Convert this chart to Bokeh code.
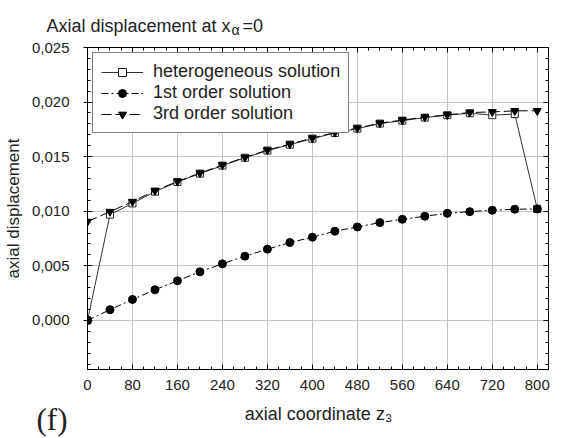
from bokeh.plotting import figure
from bokeh.layouts import column, row
from bokeh.models import (FixedTicker, CustomJSTickFormatter, LinearAxis, Range1d,
                          Legend, LegendItem, Label, ColumnDataSource)
from bokeh.embed import file_html
from bokeh.resources import INLINE

# ---- data ----
z3 = [0, 40, 80, 120, 160, 200, 240, 280, 320, 360, 400,
      440, 480, 520, 560, 600, 640, 680, 720, 760, 800]
heterogeneous = [0.00000, 0.00969, 0.01072, 0.01180, 0.01268, 0.01345, 0.01418,
                 0.01490, 0.01556, 0.01610, 0.01665, 0.01717, 0.01757, 0.01803,
                 0.01830, 0.01858, 0.01880, 0.01898, 0.01880, 0.01890, 0.01021]
first_order = [0.00000, 0.00098, 0.00192, 0.00280, 0.00363, 0.00445, 0.00518,
               0.00588, 0.00652, 0.00713, 0.00762, 0.00817, 0.00856, 0.00896,
               0.00926, 0.00954, 0.00981, 0.00996, 0.01009, 0.01018, 0.01021]
third_order = [0.00905, 0.00996, 0.01088, 0.01188, 0.01273, 0.01350, 0.01423,
               0.01493, 0.01560, 0.01615, 0.01670, 0.01721, 0.01761, 0.01807,
               0.01835, 0.01862, 0.01883, 0.01904, 0.01910, 0.01920, 0.01920]
x_major = [0, 80, 160, 240, 320, 400, 480, 560, 640, 720, 800]
x_minor = [20, 40, 60, 100, 120, 140, 180, 200, 220, 260, 280, 300, 340, 360, 380,
           420, 440, 460, 500, 520, 540, 580, 600, 620, 660, 680, 700, 740, 760,
           780, 820]
y_major = [0.000, 0.005, 0.010, 0.015, 0.020, 0.025]
y_minor = [-0.004, -0.003, -0.002, -0.001, 0.001, 0.002, 0.003, 0.004, 0.006,
           0.007, 0.008, 0.009, 0.011, 0.012, 0.013, 0.014, 0.016, 0.017, 0.018,
           0.019, 0.021, 0.022, 0.023, 0.024]
series_names = ["heterogeneous solution", "1st order solution", "3rd order solution"]
title_parts = ["Axial displacement at x", "α", "=0"]
x_label = "axial coordinate z₃"
y_label = "axial displacement"
panel_tag = "(f)"

FONT = "Liberation Sans"
TXT = "#222222"
W = 564


def strip(height):
    f = figure(width=W, height=height, output_backend="svg", toolbar_location=None,
               x_axis_type=None, y_axis_type=None, x_range=Range1d(0, 1),
               y_range=Range1d(0, 1), min_border=0, align="start")
    f.outline_line_color = None
    f.grid.visible = False
    return f


# ---- title strip ----
top = strip(38)
top.add_layout(Label(x=46, y=13, x_units="screen", y_units="screen", text=title_parts[0],
                     text_font=FONT, text_font_size="18px", text_color=TXT,
                     text_baseline="alphabetic"))
top.add_layout(Label(x=231, y=9, x_units="screen", y_units="screen", text=title_parts[1],
                     text_font=FONT, text_font_size="14px", text_color=TXT,
                     text_baseline="alphabetic"))
top.add_layout(Label(x=242, y=13, x_units="screen", y_units="screen", text=title_parts[2],
                     text_font=FONT, text_font_size="18px", text_color=TXT,
                     text_baseline="alphabetic"))

# ---- main chart ----
src = ColumnDataSource(dict(z=z3, het=heterogeneous, first=first_order, third=third_order))

p = figure(width=W, height=360, output_backend="svg", toolbar_location=None,
           x_range=Range1d(0, 820), y_range=Range1d(-0.0045, 0.025),
           min_border_left=87, min_border_right=16, min_border_top=9,
           min_border_bottom=29, y_axis_label=y_label)
p.outline_line_color = "black"
p.background_fill_color = "white"
p.border_fill_color = "white"

xt = FixedTicker(ticks=x_major, minor_ticks=x_minor)
yt = FixedTicker(ticks=y_major, minor_ticks=y_minor)

p.xaxis.ticker = xt
p.yaxis.ticker = yt
p.xgrid.ticker = xt
p.ygrid.ticker = yt
for g in (p.xgrid, p.ygrid):
    g.grid_line_color = "#c4c4c4"
    g.grid_line_width = 1

p.yaxis.formatter = CustomJSTickFormatter(code="return tick.toFixed(3).replace('.', ',');")

for ax in (p.xaxis[0], p.yaxis[0]):
    ax.axis_line_color = "black"
    ax.major_tick_line_color = "black"
    ax.minor_tick_line_color = "black"
    ax.major_label_text_font = FONT
    ax.major_label_text_font_size = "15px"
    ax.major_label_text_color = TXT
    ax.axis_label_text_font = FONT
    ax.axis_label_text_font_size = "17px"
    ax.axis_label_text_font_style = "normal"
    ax.axis_label_text_color = TXT

p.yaxis.major_tick_in = 5
p.yaxis.major_tick_out = 4
p.yaxis.minor_tick_in = 3
p.yaxis.minor_tick_out = 0
p.yaxis.major_label_standoff = 14
p.yaxis.axis_label_standoff = 6

p.xaxis.major_tick_in = 5
p.xaxis.major_tick_out = 0
p.xaxis.minor_tick_in = 3
p.xaxis.minor_tick_out = 0
p.xaxis.major_label_standoff = 10

for loc, tk in (("above", xt), ("right", yt)):
    ax = LinearAxis(ticker=tk)
    ax.axis_line_color = "black"
    ax.major_tick_in = 5
    ax.major_tick_out = 0
    ax.minor_tick_in = 3
    ax.minor_tick_out = 0
    ax.major_label_text_font_size = "1px"
    ax.major_label_text_color = None
    ax.major_label_standoff = 0
    p.add_layout(ax, loc)

# ---- series ----
r_het_l = p.line("z", "het", source=src, line_color="#333333", line_width=1)
r_het_m = p.scatter("z", "het", source=src, marker="square", size=7,
                    fill_color="white", line_color="#222222", line_width=1)
r_3_l = p.line("z", "third", source=src, line_color="black", line_width=1,
               line_dash="10 4")
r_3_m = p.scatter("z", "third", source=src, marker="inverted_triangle", size=8,
                  fill_color="black", line_color="black")
r_1_l = p.line("z", "first", source=src, line_color="black", line_width=1,
               line_dash="7 3 2 3")
r_1_m = p.scatter("z", "first", source=src, marker="circle", size=8,
                  fill_color="black", line_color="black")

legend = Legend(items=[
    LegendItem(label=series_names[0], renderers=[r_het_l, r_het_m]),
    LegendItem(label=series_names[1], renderers=[r_1_l, r_1_m]),
    LegendItem(label=series_names[2], renderers=[r_3_l, r_3_m]),
], location="top_left")
legend.margin = 5
legend.padding = 8
legend.spacing = 0
legend.label_height = 20
legend.glyph_height = 20
legend.glyph_width = 42
legend.label_standoff = 10
legend.label_text_font = FONT
legend.label_text_font_size = "18px"
legend.label_text_color = TXT
legend.border_line_color = "black"
legend.border_line_width = 1
legend.background_fill_alpha = 1
p.add_layout(legend, "center")

# ---- bottom strip: x axis title and panel tag ----
bot = strip(40)
bot.add_layout(Label(x=318, y=25, x_units="screen", y_units="screen", text=x_label,
                     text_font=FONT, text_font_size="18px", text_color=TXT,
                     text_align="center", text_baseline="alphabetic"))
bot.add_layout(Label(x=36, y=19, x_units="screen", y_units="screen", text=panel_tag,
                     text_font="Liberation Serif", text_font_size="31px", text_color=TXT,
                     text_baseline="alphabetic"))

layout = column(row(top), p, row(bot), spacing=0)
open("out.html", "w").write(file_html(layout, INLINE))
